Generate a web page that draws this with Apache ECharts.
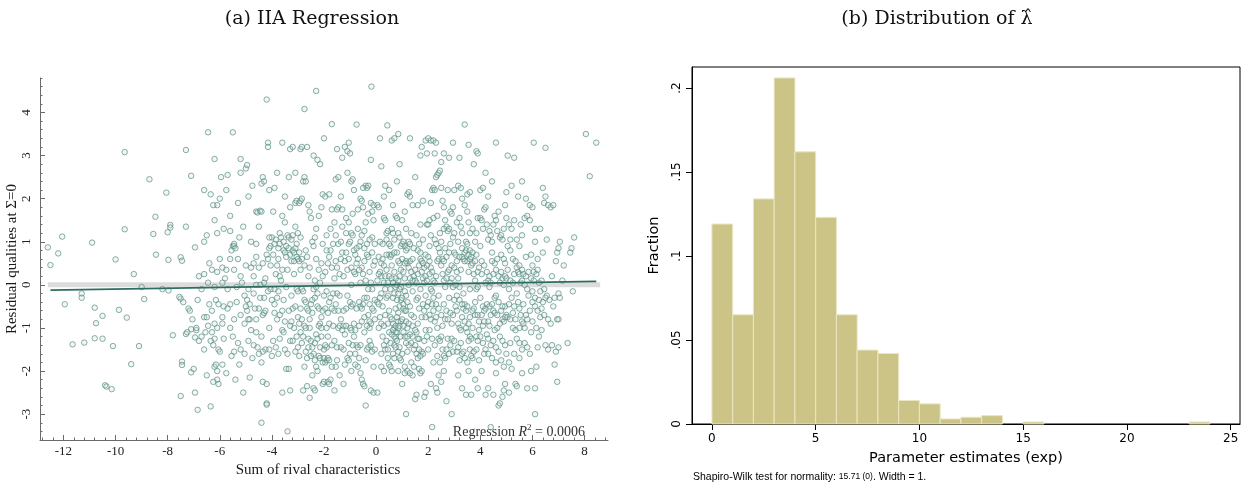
<!DOCTYPE html>
<html><head><meta charset="utf-8">
<script src="https://cdn.jsdelivr.net/npm/echarts@6/dist/echarts.min.js"></script>
<style>html,body{margin:0;padding:0;background:#fff}#c{width:1244px;height:485px}</style>
</head><body><div id="c"></div>
<script>
// ---------- Panel (a): scatter points ----------
const ptsFarLeft = [[-12.6,0.87],[-12.5,0.46],[-12.2,0.73],[-12.05,1.12],[-10.9,0.98],[-10.0,0.59],[-9.65,1.29],[-9.3,0.25],[-11.95,-0.45],[-11.3,-0.2],[-11.3,-0.3],[-10.8,-0.53],[-10.75,-0.89],[-10.5,-0.72],[-10.8,-1.24],[-10.5,-1.25],[-11.65,-1.38],[-11.2,-1.34],[-10.1,-1.42],[-9.87,-0.58],[-9.57,-0.76],[-9.1,-1.42],[-9.4,-1.84],[-10.4,-2.33],[-10.35,-2.36],[-10.15,-2.42],[-8.9,-0.33],[-9.0,-0.05],[-9.65,3.08],[-8.7,2.45],[-8.47,1.58],[-8.55,1.18],[-8.45,0.7],[-8.2,-0.1]];
const ptsM8 = [[-7.9,1.39],[-7.9,1.33],[-8.0,1.22],[-8.05,2.14],[-7.97,0.58],[-7.8,-1.17],[-7.5,0.64],[-7.45,0.56],[-7.3,1.35],[-7.5,-0.32],[-7.55,-0.28],[-7.45,-1.78],[-7.45,-1.86],[-7.5,-2.58],[-7.1,-2.03],[-7.3,-1.14],[-7.1,-1.03],[-7.3,3.13],[-7.1,2.53],[-7.97,-0.13],[-7.4,-0.4],[-7.2,-0.55],[-7.15,-0.6],[-7.25,-1.1],[-7.0,-1.95],[-7.05,-0.8]];
const ptsM7 = [[-6.95,0.87],[-6.95,-2.5],[-6.85,-2.9],[-6.35,-2.82],[-6.95,-1.22],[-6.9,-1.05],[-6.8,-1.3],[-6.6,-0.75],[-6.5,-0.75],[-6.45,-0.95],[-6.7,-0.1],[-6.6,0.25],[-6.8,0.2],[-6.45,3.54],[-6.2,2.92],[-6.5,1.15],[-6.6,1.0],[-6.4,0.5],[-6.3,0.35],[-6.1,1.2],[-6.2,1.5],[-6.1,1.85],[-6.25,1.85],[-6.35,2.1],[-6.6,2.2],[-6.0,2.0],[-6.6,-1.5],[-6.5,-2.1],[-6.2,-1.9],[-6.15,-1.85],[-6.1,-2.0],[-6.1,-2.2],[-6.05,-2.3],[-6.25,-2.25],[-6.7,-1.2],[-6.55,-1.1],[-6.3,-1.1],[-6.2,-1.25],[-6.1,-1.0],[-6.05,-0.45],[-6.15,-0.35],[-6.3,-0.6],[-6.4,-0.45],[-6.2,-0.05],[-6.1,0.3],[-6.0,0.6],[-6.45,0.05],[-6.85,-0.35],[-6.9,-1.0],[-6.35,-1.3],[-6.05,-1.5],[-6.0,-1.55],[-6.2,-0.9],[-6.25,-1.4]];
const ptsM6 = [[-5.5,3.54],[-5.2,2.92],[-5.7,2.55],[-5.75,2.2],[-5.85,1.3],[-5.6,1.25],[-5.5,0.9],[-5.45,0.9],[-5.55,0.8],[-5.3,0.6],[-5.6,0.6],[-5.45,0.35],[-5.75,0.35],[-5.9,0.4],[-5.2,0.2],[-5.8,0.15],[-5.1,1.35],[-5.2,2.6],[-5.0,2.7],[-5.35,-0.4],[-5.6,-0.45],[-5.85,-0.5],[-5.7,-0.55],[-5.9,-0.9],[-5.9,-0.75],[-5.5,-1.2],[-5.3,-1.35],[-5.2,-1.5],[-5.45,-1.55],[-5.25,-1.85],[-5.1,-2.5],[-5.4,-2.2],[-5.75,-2.05],[-5.9,-1.85],[-5.05,-0.9],[-5.05,-0.25],[-5.35,-0.05],[-5.7,-0.1],[-5.0,0.45],[-5.25,1.1],[-5.15,0.05],[-5.6,-1.0],[-5.85,-1.25],[-5.45,-0.8],[-5.2,-0.7],[-5.05,-1.6],[-5.55,-1.65],[-5.9,0.05],[-5.6,1.6],[-5.3,1.9],[-5.95,2.5]];
const ptsM5 = [[-4.95,2.78],[-4.9,2.05],[-4.75,2.3],[-4.6,1.7],[-4.55,1.68],[-4.45,1.72],[-4.4,1.7],[-4.4,2.35],[-4.35,2.5],[-4.3,2.4],[-4.1,2.2],[-4.15,3.3],[-4.15,3.2],[-4.2,4.3],[-4.3,0.05],[-4.45,0.0],[-4.9,-0.1],[-4.6,0.0],[-4.8,0.4],[-4.7,0.2],[-4.5,0.4],[-4.35,0.5],[-4.2,0.7],[-4.1,0.85],[-4.05,0.9],[-4.6,0.95],[-4.0,1.1],[-4.1,1.1],[-4.3,-0.3],[-4.5,-0.55],[-4.7,-0.2],[-4.85,-0.45],[-4.95,-0.6],[-4.6,-0.8],[-4.85,-0.8],[-4.35,-0.7],[-4.3,-0.65],[-4.9,-1.3],[-4.7,-1.4],[-4.6,-1.1],[-4.4,-1.2],[-4.25,-1.5],[-4.35,-1.55],[-4.4,-1.8],[-4.55,-1.45],[-4.1,-1.5],[-4.0,-1.65],[-4.35,-2.25],[-4.2,-2.3],[-4.2,-2.75],[-4.2,-2.78],[-4.4,-3.2],[-4.85,-2.15],[-4.9,-0.8],[-4.15,-0.15],[-4.05,-0.1],[-4.6,0.65],[-4.75,-1.7],[-4.1,-1.0],[-4.05,0.45],[-4.25,0.15],[-4.5,1.35],[-4.8,1.0]];
const ptsM4 = [[-3.9,-0.1],[-3.85,0.25],[-3.8,0.45],[-3.75,0.6],[-3.7,0.2],[-3.6,0.35],[-3.55,0.8],[-3.5,0.75],[-3.45,0.9],[-3.4,1.15],[-3.35,1.1],[-3.3,0.7],[-3.25,0.55],[-3.2,0.8],[-3.15,0.75],[-3.1,0.85],[-3.05,0.65],[-3.0,1.2],[-3.85,1.05],[-3.7,1.2],[-3.95,1.7],[-3.8,2.6],[-3.6,3.3],[-3.3,3.15],[-3.2,3.2],[-3.1,2.6],[-3.5,2.05],[-3.6,1.6],[-3.1,1.9],[-3.05,1.95],[-3.3,1.8],[-3.9,-0.65],[-3.8,-0.8],[-3.7,-0.7],[-3.6,-1.05],[-3.55,-1.1],[-3.5,-1.5],[-3.4,-1.6],[-3.3,-1.3],[-3.2,-0.55],[-3.1,-0.5],[-3.05,-0.1],[-3.0,-0.15],[-3.25,-0.25],[-3.45,-0.05],[-3.35,-0.6],[-3.15,-1.0],[-3.05,-1.2],[-3.85,-1.45],[-3.75,-1.6],[-3.6,-2.5],[-3.45,-1.95],[-3.35,-1.95],[-3.3,-2.45],[-3.4,-3.4],[-3.1,-1.55],[-3.0,-1.45],[-3.95,-1.3],[-3.65,0.1],[-3.15,0.25],[-3.4,0.35],[-3.55,-0.35],[-3.8,-0.3],[-3.25,-0.85],[-3.7,-1.25],[-3.1,1.35],[-3.5,1.45],[-3.9,2.25],[-3.35,2.5],[-3.7,0.95]];
const ptsM3 = [[-2.95,1.9],[-2.9,1.95],[-2.85,2.0],[-2.8,2.4],[-2.75,2.5],[-2.7,2.4],[-2.6,1.85],[-2.55,1.7],[-2.5,1.55],[-2.45,1.0],[-2.4,0.9],[-2.35,1.1],[-2.3,0.6],[-2.2,1.6],[-2.1,1.8],[-2.05,2.1],[-2.15,2.8],[-2.25,2.9],[-2.4,3.0],[-2.3,4.5],[-2.75,4.08],[-2.65,3.2],[-2.0,3.4],[-2.9,3.15],[-2.85,3.2],[-2.95,0.55],[-2.9,0.35],[-2.85,-0.1],[-2.8,-0.15],[-2.75,-0.35],[-2.7,-0.4],[-2.65,-0.55],[-2.6,-0.6],[-2.55,-0.8],[-2.5,-0.45],[-2.45,-0.35],[-2.4,-0.1],[-2.35,0.1],[-2.3,-0.05],[-2.25,-0.5],[-2.2,-0.55],[-2.15,-0.9],[-2.1,-0.75],[-2.05,-0.6],[-2.0,-0.25],[-2.95,-0.9],[-2.9,-1.1],[-2.85,-1.35],[-2.8,-1.2],[-2.7,-1.55],[-2.65,-1.7],[-2.6,-1.25],[-2.55,-1.0],[-2.5,-1.3],[-2.45,-1.45],[-2.4,-1.6],[-2.35,-1.75],[-2.3,-1.9],[-2.25,-2.0],[-2.2,-1.65],[-2.15,-1.45],[-2.1,-1.2],[-2.05,-2.3],[-2.0,-2.25],[-2.4,-2.4],[-2.35,-2.45],[-2.55,-2.62],[-2.65,-2.35],[-2.8,-2.45],[-2.95,-1.65],[-2.75,-0.95],[-2.6,0.2],[-2.55,0.4],[-2.2,0.35],[-2.1,0.5],[-2.05,0.95],[-2.3,1.3],[-2.9,1.1],[-2.7,0.8],[-2.15,-1.7],[-2.75,-1.9],[-2.45,-2.1],[-2.05,-1.8],[-2.3,-1.15]];
const ptsM2 = [[-1.95,-1.8],[-1.9,-1.75],[-1.85,-2.25],[-1.8,-2.3],[-1.75,-2.2],[-1.9,-1.45],[-1.7,-1.4],[-1.6,-1.3],[-1.5,-1.45],[-1.45,-1.0],[-1.4,-0.95],[-1.3,-1.05],[-1.25,-1.5],[-1.2,-1.85],[-1.1,-1.7],[-1.05,-1.75],[-1.0,-1.0],[-1.15,-0.55],[-1.25,-0.6],[-1.4,-0.25],[-1.5,-0.2],[-1.6,-0.6],[-1.7,-0.55],[-1.8,-0.4],[-1.9,-0.15],[-1.95,0.3],[-1.85,0.5],[-1.75,0.8],[-1.65,0.95],[-1.55,0.55],[-1.5,0.4],[-1.4,0.25],[-1.35,0.6],[-1.3,0.75],[-1.2,0.55],[-1.1,0.35],[-1.05,0.95],[-1.0,1.0],[-1.15,1.2],[-1.3,1.35],[-1.45,1.8],[-1.5,1.75],[-1.6,1.45],[-1.75,1.3],[-1.9,1.15],[-1.95,2.05],[-1.8,2.1],[-1.7,1.75],[-1.55,2.45],[-1.45,2.5],[-1.3,2.95],[-1.2,3.2],[-1.1,3.1],[-1.05,3.3],[-1.0,3.05],[-1.7,3.73],[-1.5,3.15],[-1.35,2.05],[-1.1,2.6],[-1.15,1.55],[-1.05,1.45],[-1.9,-1.0],[-1.8,-0.9],[-1.65,-0.95],[-1.55,-1.9],[-1.35,-1.45],[-1.2,-1.15],[-1.1,-0.25],[-1.0,-0.4],[-1.85,-1.2],[-1.4,-2.1],[-1.25,-2.3],[-1.6,-2.45]];
const ptsM1 = [[-0.95,1.2],[-0.9,1.15],[-0.85,0.8],[-0.8,0.7],[-0.75,0.5],[-0.7,0.6],[-0.65,0.9],[-0.6,1.0],[-0.55,0.4],[-0.5,0.25],[-0.45,0.55],[-0.4,0.1],[-0.35,0.7],[-0.3,0.65],[-0.25,0.3],[-0.2,0.05],[-0.15,-0.1],[-0.1,0.45],[-0.05,0.95],[-0.95,-0.5],[-0.9,-0.45],[-0.85,-0.9],[-0.8,-1.05],[-0.75,-1.4],[-0.7,-1.45],[-0.65,-1.7],[-0.6,-2.05],[-0.55,-2.2],[-0.5,-2.3],[-0.45,-2.35],[-0.4,-2.8],[-0.35,-1.5],[-0.3,-1.45],[-0.25,-1.0],[-0.2,-0.9],[-0.15,-1.55],[-0.1,-1.9],[-0.05,-1.5],[-0.6,-0.5],[-0.55,-0.55],[-0.5,-0.45],[-0.45,-0.3],[-0.35,-0.3],[-0.3,-0.7],[-0.25,-0.85],[-0.1,-0.6],[-0.05,-0.35],[-0.95,2.4],[-0.9,2.45],[-0.85,2.2],[-0.75,3.72],[-0.6,2.0],[-0.5,1.8],[-0.4,2.3],[-0.35,2.25],[-0.3,1.65],[-0.2,1.9],[-0.15,1.7],[-0.1,1.85],[-0.2,2.9],[-0.18,4.6],[-0.55,1.95],[-0.45,1.25],[-0.7,1.3],[-0.9,-1.4],[-0.8,-1.6],[-0.7,-1.9],[-0.95,-2.0],[-0.2,-2.45],[-0.1,-2.5],[-0.65,-0.95],[-0.45,-1.1],[-0.25,-1.3],[-0.95,0.0],[-0.6,0.05],[-0.3,-0.1],[-0.8,0.25],[-0.4,1.45],[-0.15,1.1]];
const ptsP0 = [[0.05,1.85],[0.1,1.8],[0.15,3.4],[0.2,2.75],[0.3,1.55],[0.35,1.5],[0.4,1.2],[0.45,1.25],[0.5,0.7],[0.55,0.65],[0.6,1.3],[0.65,1.2],[0.7,1.05],[0.75,1.6],[0.8,1.55],[0.85,1.2],[0.9,1.1],[0.95,0.9],[0.43,3.7],[0.6,3.35],[0.7,3.4],[0.85,3.5],[0.9,2.8],[0.8,2.4],[0.65,1.85],[0.1,0.65],[0.15,0.3],[0.2,0.2],[0.25,0.6],[0.3,0.05],[0.35,-0.1],[0.4,-0.3],[0.45,-0.25],[0.5,-0.6],[0.55,-0.75],[0.6,-0.8],[0.65,-0.9],[0.7,-1.0],[0.75,-0.95],[0.8,-1.1],[0.85,-0.85],[0.9,-0.5],[0.95,-0.35],[0.05,-0.4],[0.1,-0.45],[0.15,-0.75],[0.2,-0.9],[0.25,-1.2],[0.3,-1.4],[0.35,-1.5],[0.4,-1.3],[0.45,-1.7],[0.5,-1.85],[0.55,-1.9],[0.6,-2.0],[0.65,-1.6],[0.7,-1.4],[0.75,-1.25],[0.8,-1.3],[0.85,-1.55],[0.9,-1.45],[0.95,-1.2],[0.05,-2.5],[0.2,-1.9],[0.3,-2.0],[0.75,-0.05],[0.8,0.0],[0.85,0.1],[0.9,0.2],[0.95,-0.05],[0.7,0.3],[0.6,0.45],[0.55,0.9],[0.4,0.7],[0.35,0.2],[0.45,0.05],[0.55,-0.1],[0.65,-0.3],[0.75,-0.55],[0.85,-0.65],[0.95,-0.85],[0.15,1.0],[0.25,0.95],[0.4,1.05],[0.9,0.5],[0.8,0.75],[0.7,-1.7],[0.5,-1.1],[0.95,-1.75],[0.85,-2.0],[0.6,-1.15],[0.2,-0.2],[0.1,-1.0],[0.35,2.3],[0.5,2.2],[0.3,2.05]];
const ptsP1 = [[1.0,0.95],[1.05,1.0],[1.1,0.9],[1.15,0.8],[1.2,0.5],[1.25,0.4],[1.3,0.55],[1.35,0.3],[1.4,0.6],[1.45,0.2],[1.5,0.1],[1.55,0.05],[1.6,0.25],[1.65,0.45],[1.7,0.6],[1.75,0.55],[1.8,0.15],[1.85,0.05],[1.9,0.2],[1.95,0.1],[1.0,-0.3],[1.05,-0.45],[1.1,-0.6],[1.15,-0.85],[1.2,-1.0],[1.25,-0.9],[1.3,-1.15],[1.35,-1.35],[1.4,-1.2],[1.45,-1.5],[1.5,-1.4],[1.55,-1.6],[1.6,-1.7],[1.65,-1.95],[1.7,-2.05],[1.75,-1.55],[1.8,-1.6],[1.85,-1.3],[1.9,-1.05],[1.95,-1.2],[1.0,-1.6],[1.1,-1.9],[1.2,-2.0],[1.3,-2.05],[1.4,-2.1],[1.5,-2.65],[1.55,-2.55],[1.15,-3.0],[1.9,-2.5],[1.85,-2.6],[1.0,1.5],[1.1,1.7],[1.2,2.1],[1.3,2.05],[1.4,1.85],[1.5,2.5],[1.6,1.85],[1.7,1.4],[1.8,1.95],[1.9,3.35],[1.95,3.05],[1.75,3.2],[1.7,3.0],[1.3,3.4],[1.25,2.15],[1.05,-0.55],[1.15,-0.25],[1.3,-0.5],[1.45,-0.75],[1.6,-0.9],[1.75,-0.75],[1.85,-0.6],[1.95,-0.5],[1.1,0.15],[1.25,0.0],[1.4,-0.15],[1.6,-0.3],[1.7,-0.1],[1.9,-0.25],[1.05,-1.1],[1.25,-1.4],[1.55,-1.1],[1.65,-1.25],[1.35,1.2],[1.55,1.15],[1.8,1.05],[1.95,1.4],[1.15,1.3],[1.45,0.85],[1.65,0.95],[1.9,0.7],[1.2,-1.55],[1.75,-2.0],[1.0,-2.3],[1.45,-1.9]];
const ptsP2 = [[2.0,1.4],[2.05,1.5],[2.1,1.9],[2.15,2.2],[2.2,2.25],[2.25,2.2],[2.3,2.5],[2.35,2.55],[2.4,2.6],[2.45,2.65],[2.5,2.25],[2.55,1.95],[2.6,1.8],[2.65,1.5],[2.7,1.35],[2.75,1.25],[2.8,1.3],[2.85,1.7],[2.9,1.65],[2.95,1.8],[2.0,3.4],[2.1,3.35],[2.2,3.35],[2.3,3.3],[2.25,3.05],[2.5,2.85],[2.6,3.05],[2.95,3.3],[2.8,2.95],[2.0,0.65],[2.05,0.55],[2.1,0.4],[2.15,0.3],[2.2,0.1],[2.25,0.05],[2.3,0.2],[2.35,0.55],[2.4,0.6],[2.45,0.75],[2.5,0.45],[2.55,0.25],[2.6,0.1],[2.65,-0.05],[2.7,0.15],[2.75,0.3],[2.8,0.35],[2.85,0.05],[2.9,0.15],[2.95,-0.05],[2.0,-0.4],[2.05,-0.7],[2.1,-0.8],[2.15,-0.45],[2.2,-0.6],[2.25,-0.85],[2.3,-0.75],[2.35,-1.0],[2.4,-1.25],[2.45,-1.3],[2.5,-1.2],[2.55,-1.5],[2.6,-1.65],[2.65,-1.7],[2.7,-1.5],[2.75,-1.25],[2.8,-1.6],[2.85,-1.4],[2.9,-1.25],[2.95,-1.55],[2.0,-1.5],[2.1,-2.3],[2.2,-1.8],[2.3,-2.4],[2.35,-2.5],[2.4,-2.1],[2.15,-3.3],[2.5,-2.25],[2.7,-2.7],[2.9,-3.0],[2.6,-2.0],[2.05,0.9],[2.25,1.05],[2.45,1.2],[2.65,0.85],[2.85,0.95],[2.15,-0.15],[2.4,-0.25],[2.6,-0.45],[2.8,-0.3],[2.95,-0.7],[2.35,1.6],[2.75,2.2],[2.55,0.6]];
const ptsP3 = [[3.0,0.75],[3.05,0.7],[3.1,0.3],[3.15,0.15],[3.2,-0.05],[3.25,0.35],[3.3,0.65],[3.35,0.6],[3.4,0.75],[3.45,0.8],[3.5,0.55],[3.55,0.3],[3.6,0.6],[3.65,0.45],[3.7,0.5],[3.75,0.25],[3.8,0.1],[3.85,-0.1],[3.9,-0.05],[3.95,0.4],[3.0,1.2],[3.1,1.45],[3.2,1.55],[3.3,1.2],[3.4,1.85],[3.5,1.7],[3.6,1.2],[3.7,1.3],[3.8,1.0],[3.9,1.55],[3.0,2.2],[3.15,2.3],[3.25,2.25],[3.3,2.0],[3.5,2.1],[3.6,2.15],[3.75,2.8],[3.85,3.1],[3.9,3.05],[3.55,3.25],[3.4,3.72],[3.2,2.95],[3.0,-0.35],[3.05,-0.5],[3.1,-0.6],[3.15,-0.9],[3.2,-1.0],[3.25,-1.05],[3.3,-0.75],[3.35,-0.55],[3.4,-0.45],[3.45,-0.6],[3.5,-0.5],[3.55,-0.9],[3.6,-1.2],[3.65,-1.25],[3.7,-1.0],[3.75,-0.55],[3.8,-0.7],[3.85,-1.2],[3.9,-1.3],[3.95,-1.05],[3.0,-1.3],[3.1,-1.55],[3.2,-1.75],[3.3,-1.6],[3.4,-1.7],[3.5,-1.8],[3.6,-1.5],[3.7,-1.7],[3.8,-2.2],[3.9,-2.4],[3.3,-2.4],[3.45,-2.55],[3.65,-2.55],[3.15,-2.1],[3.95,-1.75],[3.05,0.0],[3.35,-0.2],[3.6,-0.1],[3.85,0.7],[3.45,1.0],[3.15,1.0],[3.75,-1.55],[3.25,-1.35],[3.55,-2.0]];
const ptsP4 = [[4.0,1.55],[4.05,1.5],[4.1,1.3],[4.15,1.75],[4.2,1.8],[4.3,1.05],[4.35,1.25],[4.4,1.15],[4.45,1.0],[4.5,1.4],[4.55,1.6],[4.6,1.5],[4.7,1.7],[4.75,1.1],[4.8,1.15],[4.85,1.05],[4.9,1.3],[4.95,1.85],[4.0,2.2],[4.1,2.25],[4.3,2.05],[4.45,2.4],[4.6,3.3],[4.2,2.6],[4.0,0.9],[4.05,0.55],[4.15,0.45],[4.25,0.3],[4.3,0.1],[4.35,-0.05],[4.4,0.05],[4.5,0.25],[4.55,0.5],[4.6,0.35],[4.7,0.2],[4.75,0.05],[4.8,0.3],[4.85,0.15],[4.9,0.0],[4.95,0.2],[4.0,-0.3],[4.1,-0.5],[4.15,-0.6],[4.2,-0.55],[4.3,-0.85],[4.35,-0.95],[4.4,-0.7],[4.5,-0.6],[4.55,-0.3],[4.6,-0.25],[4.7,-0.4],[4.8,-0.6],[4.85,-0.8],[4.9,-0.85],[4.95,-0.5],[4.0,-1.2],[4.1,-1.35],[4.2,-1.5],[4.3,-1.6],[4.4,-1.4],[4.5,-1.3],[4.6,-1.45],[4.7,-1.55],[4.8,-1.75],[4.9,-1.9],[4.95,-1.4],[4.05,-2.0],[4.3,-2.4],[4.5,-2.55],[4.6,-2.05],[4.7,-2.8],[4.75,-2.75],[4.85,-2.6],[4.9,-2.45],[4.95,-2.3],[4.2,-2.55],[4.4,-3.3],[4.1,-0.95],[4.65,-1.0],[4.25,-1.15],[4.75,-1.2],[4.45,0.75],[4.9,0.6]];
const ptsP5 = [[5.0,1.55],[5.1,1.4],[5.2,1.3],[5.3,1.5],[5.4,1.05],[5.5,0.9],[5.6,1.15],[5.7,1.55],[5.8,1.6],[5.9,1.5],[5.05,0.9],[5.15,0.8],[5.25,0.6],[5.35,0.55],[5.45,0.3],[5.5,0.25],[5.55,0.05],[5.6,0.1],[5.65,0.25],[5.75,0.2],[5.85,0.3],[5.95,0.15],[5.0,0.15],[5.1,-0.1],[5.2,-0.3],[5.3,-0.5],[5.4,-0.2],[5.45,-0.4],[5.5,-0.55],[5.55,-0.7],[5.6,-0.85],[5.7,-1.0],[5.8,-0.8],[5.9,-0.6],[5.0,-0.7],[5.05,-0.75],[5.15,-0.8],[5.25,-1.0],[5.35,-0.8],[5.4,-1.25],[5.5,-1.35],[5.6,-1.5],[5.7,-1.35],[5.8,-1.45],[5.9,-1.6],[5.0,-1.6],[5.1,-1.8],[5.2,-1.95],[5.35,-2.3],[5.4,-2.35],[5.6,-2.05],[5.8,-2.4],[5.95,-2.0],[5.1,-2.5],[5.0,2.15],[5.2,2.3],[5.45,2.05],[5.6,2.4],[5.75,2.0],[5.9,1.85],[5.3,2.95],[5.05,3.0],[5.25,0.05],[5.85,-0.25],[5.65,-0.45],[5.95,-1.1],[5.15,-1.35],[5.75,0.65],[5.95,0.7]];
const ptsP6 = [[6.0,1.8],[6.1,1.3],[6.05,3.3],[6.5,3.18],[6.4,2.25],[6.5,2.05],[6.45,1.9],[6.6,1.85],[6.7,1.8],[6.8,1.85],[6.3,1.3],[6.1,1.0],[6.2,0.6],[6.0,0.45],[6.05,0.3],[6.15,0.25],[6.25,0.05],[6.35,0.1],[6.45,-0.1],[6.55,-0.25],[6.65,-0.35],[6.75,0.2],[6.9,0.55],[6.95,0.75],[6.0,-0.4],[6.1,-0.5],[6.2,-0.6],[6.3,-0.75],[6.4,-0.4],[6.5,-0.3],[6.6,-0.8],[6.7,-0.9],[6.85,-0.3],[6.0,-0.85],[6.15,-1.0],[6.25,-1.2],[6.35,-1.05],[6.5,-1.4],[6.6,-1.5],[6.75,-1.4],[6.9,-1.55],[6.85,-1.85],[6.95,-2.25],[6.15,-1.9],[6.1,-2.4],[6.1,-3.0],[6.3,-0.15],[6.8,-0.5],[6.4,0.75],[6.95,-0.8],[6.2,-1.45],[6.55,1.05],[6.0,-0.15]];
const ptsP7 = [[7.0,0.85],[7.05,1.0],[7.2,0.45],[7.45,0.75],[7.5,0.85],[7.6,1.1],[7.55,-0.15],[7.0,-0.2],[7.05,-0.3],[7.0,-0.8],[7.35,-1.35],[7.0,-1.45],[7.15,0.1],[8.05,3.5],[8.45,3.3],[8.2,2.52]];
const ptsDenseLeft = [[-5.45,0.95],[-5.4,0.85],[-5.0,-0.5],[-4.95,-0.35],[-4.7,0.5],[-4.65,-0.55],[-4.45,-0.3],[-4.25,-0.6],[-4.15,0.6],[-4.0,-0.35],[-4.8,-1.05],[-4.5,-1.6],[-3.95,0.7],[-3.9,0.95],[-3.75,0.85],[-3.65,1.1],[-3.55,1.0],[-3.45,0.65],[-3.35,0.85],[-3.25,1.05],[-3.2,1.15],[-3.15,0.55],[-3.05,0.95],[-3.0,0.6],[-2.95,0.75],[-2.85,0.6],[-2.75,0.45],[-2.65,0.65],[-3.9,-0.45],[-3.75,-0.15],[-3.6,-0.6],[-3.5,-0.85],[-3.3,-0.95],[-3.2,-1.3],[-3.0,-0.75],[-2.9,-0.55],[-2.85,-0.8],[-2.7,-1.0],[-2.6,-1.45],[-2.5,-1.65],[-2.35,-1.35],[-2.25,-1.25],[-2.2,-0.95],[-2.1,-1.0],[-2.0,-1.5],[-2.0,-1.7],[-1.95,-1.4],[-1.85,-1.7],[-1.8,-1.75],[-2.45,-0.65],[-2.35,-0.3],[-2.25,-0.2],[-2.15,0.05],[-2.05,0.2],[-1.95,-0.55],[-1.85,-0.65],[-1.75,-0.3],[-1.65,-0.2],[-1.55,-0.45],[-1.45,-0.6],[-1.35,-0.8],[-1.25,-0.95],[-1.15,-0.95],[-1.05,-1.35],[-0.95,-1.05],[-0.85,-1.2],[-0.75,-0.55],[-0.65,-0.4],[-0.55,-0.85],[-0.45,-0.75],[-0.35,-0.95],[-0.25,-0.45],[-0.15,-0.55],[-0.05,-0.8],[-1.9,0.8],[-1.8,0.65],[-1.7,0.4],[-1.6,0.15],[-1.45,0.95],[-1.35,1.0],[-1.25,0.2],[-1.15,0.75],[-1.05,0.6],[-0.95,0.4],[-0.85,0.3],[-0.75,0.85],[-0.65,0.35],[-0.55,1.15],[-0.45,0.85],[-0.35,0.95],[-0.25,1.05],[-0.15,0.75],[-0.05,0.55],[-0.9,1.65],[-0.7,1.75],[-0.5,2.25],[-0.3,2.3],[-0.1,1.5],[-1.3,1.75],[-1.55,1.15],[-0.6,-1.4],[-0.4,-1.75],[-0.2,-1.4],[-0.8,-1.85],[-1.0,-1.6],[-1.5,-1.75],[-1.7,-1.9]];
const ptsDenseRight = [[0.05,0.1],[0.1,0.25],[0.2,0.5],[0.3,0.45],[0.4,0.35],[0.5,0.2],[0.6,0.15],[0.65,0.05],[0.7,-0.2],[0.75,0.15],[0.8,-0.35],[0.85,-0.2],[0.9,-0.1],[0.95,0.35],[0.75,-1.45],[0.7,-1.2],[0.8,-0.75],[0.85,-1.0],[0.9,-0.95],[0.75,-1.1],[0.65,-1.05],[0.55,-1.35],[0.45,-0.9],[0.35,-0.7],[0.25,-0.5],[0.15,-0.3],[1.0,-0.8],[1.05,-0.95],[1.1,-1.2],[1.15,-1.35],[1.2,-1.2],[1.15,-0.6],[1.2,-0.4],[1.1,-0.15],[1.05,0.3],[1.15,0.55],[1.1,0.5],[1.2,0.85],[1.25,1.0],[1.3,0.95],[1.0,0.6],[1.35,-0.7],[1.4,-0.95],[1.5,-1.05],[1.6,-1.25],[1.65,-1.5],[1.7,-1.65],[1.55,-0.35],[1.65,-0.55],[1.8,-0.45],[1.9,-0.75],[1.75,0.3],[1.85,0.4],[1.95,0.45],[1.6,0.8],[1.7,0.75],[1.8,0.5],[1.5,0.35],[1.4,0.1],[1.3,0.15],[0.5,0.95],[0.6,0.7],[0.7,0.75],[0.85,0.55],[0.3,-0.95],[0.45,-1.5],[0.2,-1.6],[0.9,-1.7],[1.1,-2.05],[1.35,-1.8],[2.05,0.25],[2.1,-0.1],[2.2,-0.3],[2.3,-0.45],[2.4,-0.55],[2.5,-0.7],[2.55,-0.95],[2.65,-0.8],[2.7,-0.6],[2.75,-0.8],[2.85,-0.65],[2.9,-0.9],[2.05,-1.05],[2.15,-1.25],[2.25,-1.4],[2.35,-1.65],[2.45,-1.8],[2.3,0.95],[2.4,0.85],[2.5,1.0],[2.6,0.55],[2.7,0.65],[2.8,0.75],[2.9,0.45],[3.0,0.4],[3.1,0.55],[3.2,0.65],[3.3,0.85],[3.4,0.55],[3.5,0.95],[3.55,0.7],[3.6,0.8],[3.65,0.65],[3.7,0.75],[3.8,0.55],[3.9,0.3],[3.1,-0.25],[3.2,-0.35],[3.3,-0.45],[3.4,-0.85],[3.45,-1.0],[3.5,-1.1],[3.55,-1.3],[3.6,-0.75],[3.7,-0.6],[3.8,-0.4],[3.9,-0.7],[3.95,-0.85],[3.15,-1.45],[3.35,-1.55],[3.65,-1.65],[3.85,-1.5],[2.1,1.15],[2.2,1.55],[2.6,1.3],[2.95,1.1],[3.25,1.35],[3.55,1.45],[3.85,1.2],[4.05,-0.7],[4.15,-0.85],[4.25,-0.45],[4.35,-0.5],[4.45,-0.45],[4.55,-0.65],[4.65,-0.7],[4.75,-0.9],[4.85,-0.5],[4.95,-0.75],[4.05,0.25],[4.2,0.05],[4.35,0.2],[4.45,0.55],[4.65,0.6],[4.8,0.7],[4.95,0.5],[5.05,0.35],[5.15,0.1],[5.3,0.25],[5.4,0.4],[5.5,0.45],[5.6,0.35],[5.7,0.0],[5.8,-0.1],[5.1,-0.45],[5.25,-0.65],[5.35,-1.05],[5.5,-1.0],[5.65,-0.9],[5.75,-0.7],[5.3,-1.6],[5.5,-1.7],[4.15,-1.6],[4.45,-1.7],[4.6,-1.8],[4.3,-1.25],[4.55,-1.05],[4.85,-1.3],[6.1,-0.3],[6.25,-0.35],[6.35,-0.55],[6.45,-0.7],[6.05,0.1],[6.2,0.35],[4.25,1.4],[4.65,1.25],[5.15,1.05],[5.55,1.4]];

const regLineX = [-12.5, 8.45];
const regLineY = [-0.12, 0.08];
const leftXTicks = [-12, -10, -8, -6, -4, -2, 0, 2, 4, 6, 8];
const leftYTicks = [-3, -2, -1, 0, 1, 2, 3, 4];

// ---------- Panel (b): histogram ----------
const histBinStart = [0,1,2,3,4,5,6,7,8,9,10,11,12,13,14,15,16,17,18,19,20,21,22,23];
const histFraction = [0.119,0.065,0.134,0.206,0.162,0.123,0.065,0.044,0.042,0.014,0.012,0.003,0.004,0.005,0,0.0012,0,0,0,0,0,0,0,0.0012];
const rightXTicks = [0, 5, 10, 15, 20, 25];
const rightYTicks = [0, 0.05, 0.1, 0.15, 0.2];
const rightYTickLabels = ['0', '.05', '.1', '.15', '.2'];

const scatterPoints = [].concat(ptsFarLeft, ptsM8, ptsM7, ptsM6, ptsM5, ptsM4, ptsM3, ptsM2, ptsM1, ptsP0, ptsP1, ptsP2, ptsP3, ptsP4, ptsP5, ptsP6, ptsP7, ptsDenseLeft, ptsDenseRight);

function steps(a, b, s) { const r = []; for (let v = a; v <= b + 1e-9; v += s) r.push(Math.round(v * 100) / 100); return r; }
const xMinor = steps(-12.8, 8.8, 0.4);
const yMinor = steps(-3.6, 4.8, 0.2);

const serif = 'Liberation Serif';
const sans = 'DejaVu Sans';
const axGray = '#6a6a6a';

const chart = echarts.init(document.getElementById('c'), null, { renderer: 'canvas' });
chart.setOption({
  backgroundColor: '#fff',
  animation: false,
  grid: [
    { left: 40, top: 78, width: 568, height: 362, show: false },
    { left: 692, top: 67, width: 548, height: 357, show: true, borderColor: '#000', borderWidth: 1, backgroundColor: 'transparent' }
  ],
  xAxis: [
    { type: 'value', gridIndex: 0, position: 'bottom', min: -12.9, max: 8.9,
      axisLine: { show: true, onZero: false, lineStyle: { color: axGray, width: 1 } },
      axisTick: { show: true, inside: true, length: 5, customValues: leftXTicks, lineStyle: { color: axGray } },
      axisLabel: { show: true, customValues: leftXTicks, margin: 5, fontFamily: serif, fontSize: 13, color: '#222' },
      splitLine: { show: false },
      name: 'Sum of rival characteristics', nameLocation: 'middle', nameGap: 16,
      nameTextStyle: { fontFamily: serif, fontSize: 15, color: '#1a1a1a', padding: [0, 12, 0, 0] } },
    { type: 'value', gridIndex: 0, position: 'bottom', min: -12.9, max: 8.9,
      axisLine: { show: false, onZero: false },
      axisTick: { show: true, inside: true, length: 2.5, customValues: xMinor, lineStyle: { color: axGray } },
      axisLabel: { show: false }, splitLine: { show: false } },
    { type: 'value', gridIndex: 1, position: 'bottom', min: -0.96, max: 25.45,
      axisLine: { show: true, onZero: false, lineStyle: { color: '#000', width: 1 } },
      axisTick: { show: true, inside: false, length: 6, customValues: rightXTicks, lineStyle: { color: '#000' } },
      axisLabel: { show: true, customValues: rightXTicks, margin: 9, fontFamily: sans, fontSize: 12, color: '#000' },
      splitLine: { show: false },
      name: 'Parameter estimates (exp)', nameLocation: 'middle', nameGap: 27,
      nameTextStyle: { fontFamily: sans, fontSize: 14.5, color: '#000' } }
  ],
  yAxis: [
    { type: 'value', gridIndex: 0, position: 'left', min: -3.6, max: 4.8,
      axisLine: { show: true, onZero: false, lineStyle: { color: axGray, width: 1 } },
      axisTick: { show: true, inside: true, length: 5, customValues: leftYTicks, lineStyle: { color: axGray } },
      axisLabel: { show: true, customValues: leftYTicks, rotate: 90, margin: 7, fontFamily: serif, fontSize: 13, color: '#222' },
      splitLine: { show: false },
      name: 'Residual qualities at \u03A3=0', nameLocation: 'middle', nameGap: 20,
      nameTextStyle: { fontFamily: serif, fontSize: 15, color: '#1a1a1a' } },
    { type: 'value', gridIndex: 0, position: 'left', min: -3.6, max: 4.8,
      axisLine: { show: false, onZero: false },
      axisTick: { show: true, inside: true, length: 2.5, customValues: yMinor, lineStyle: { color: axGray } },
      axisLabel: { show: false }, splitLine: { show: false } },
    { type: 'value', gridIndex: 1, position: 'left', min: 0, max: 0.2125,
      axisLine: { show: true, onZero: false, lineStyle: { color: '#000', width: 1 } },
      axisTick: { show: true, inside: false, length: 6, customValues: rightYTicks, lineStyle: { color: '#000' } },
      axisLabel: { show: true, customValues: rightYTicks, rotate: 90, margin: 9, fontFamily: sans, fontSize: 12, color: '#000',
        formatter: function (v) { const i = rightYTicks.findIndex(t => Math.abs(t - v) < 1e-9); return i >= 0 ? rightYTickLabels[i] : ''; } },
      splitLine: { show: false },
      name: 'Fraction', nameLocation: 'middle', nameGap: 30,
      nameTextStyle: { fontFamily: sans, fontSize: 14.5, color: '#000' } }
  ],
  series: [
    { type: 'line', xAxisIndex: 0, yAxisIndex: 0, data: [[-12.6, 0], [8.6, 0]], symbol: 'none', silent: true,
      lineStyle: { color: '#dcdcdc', width: 5 }, z: 1 },
    { type: 'scatter', xAxisIndex: 0, yAxisIndex: 0, data: scatterPoints, symbol: 'circle', symbolSize: 5.5,
      itemStyle: { color: 'rgba(205,220,216,0.35)', borderColor: '#4f877d', borderWidth: 0.9, opacity: 0.75 }, z: 2 },
    { type: 'line', xAxisIndex: 0, yAxisIndex: 0, data: regLineX.map((x, i) => [x, regLineY[i]]), symbol: 'none',
      lineStyle: { color: '#2d6e62', width: 1.8 }, z: 3 },
    { type: 'custom', xAxisIndex: 2, yAxisIndex: 2, coordinateSystem: 'cartesian2d',
      data: histBinStart.map((s, i) => [s, histFraction[i]]), encode: { x: 0, y: 1 },
      renderItem: function (params, api) {
        const s = api.value(0), v = api.value(1);
        if (!(v > 0)) return null;
        const p0 = api.coord([s, v]);
        const p1 = api.coord([s + 1, 0]);
        return { type: 'rect', shape: { x: p0[0], y: p0[1], width: p1[0] - p0[0], height: p1[1] - p0[1] },
          style: { fill: '#ccc487', stroke: '#e9e6c2', lineWidth: 1 } };
      }, z: 2 }
  ],
  graphic: [
    { type: 'text', x: 312, y: 19, style: { text: '(a) IIA Regression', fontFamily: 'DejaVu Serif', fontSize: 19, fill: '#111', align: 'center', verticalAlign: 'middle' } },
    { type: 'text', x: 937, y: 19, style: { text: '(b) Distribution of \u03BB\u0302', fontFamily: 'DejaVu Serif', fontSize: 19, fill: '#111', align: 'center', verticalAlign: 'middle' } },
    { type: 'text', x: 585, y: 432, style: { text: '{a|Regression }{i|R}{s|2}{a| = 0.0006}', align: 'right', verticalAlign: 'middle',
        rich: { a: { fontFamily: serif, fontSize: 14, fill: '#333' }, i: { fontFamily: serif, fontSize: 14, fontStyle: 'italic', fill: '#333' }, s: { fontFamily: serif, fontSize: 9, fill: '#333', padding: [0, 0, 8, 0] } } } },
    { type: 'text', x: 693, y: 477, style: { text: '{a|Shapiro-Wilk test for normality: }{b|15.71 (0)}{a|. Width = 1.}', align: 'left', verticalAlign: 'middle',
        rich: { a: { fontFamily: 'Liberation Sans', fontSize: 10.5, fill: '#000' }, b: { fontFamily: 'Liberation Sans', fontSize: 8.5, fill: '#000' } } } }
  ]
});
</script></body></html>
